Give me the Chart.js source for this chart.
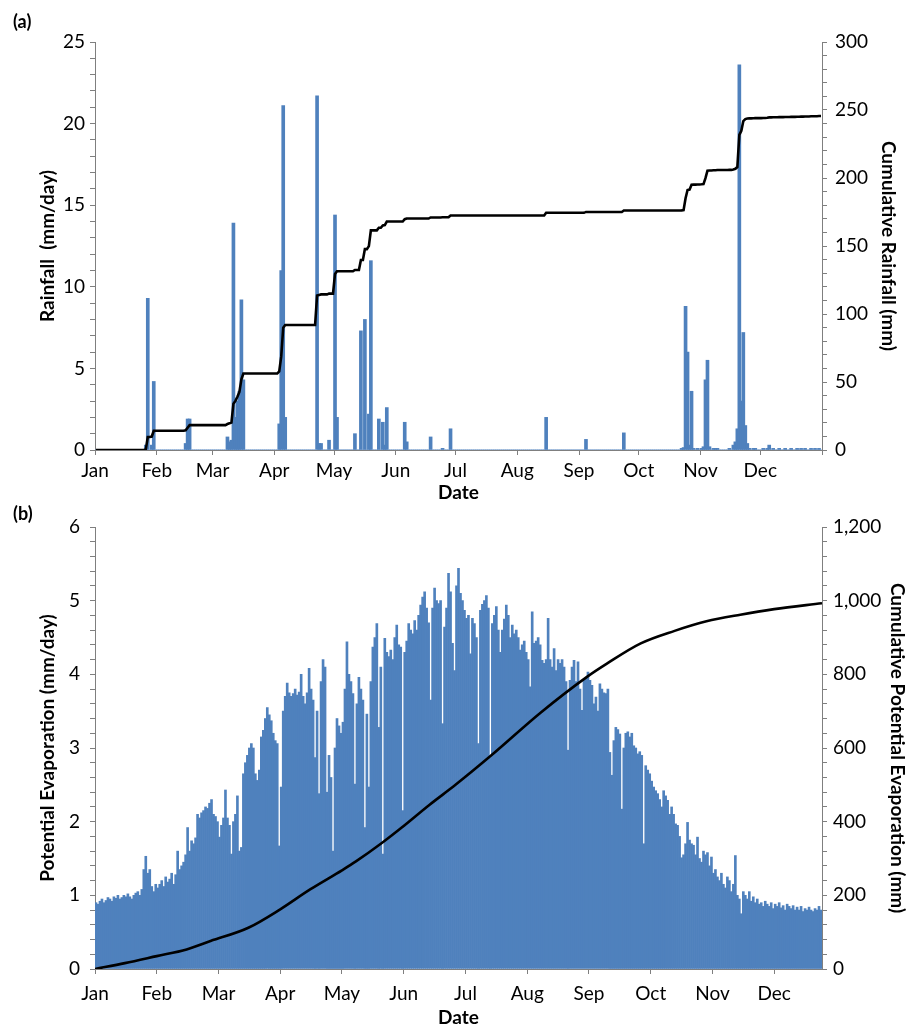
<!DOCTYPE html>
<html><head><meta charset="utf-8">
<script src="https://cdn.jsdelivr.net/npm/chart.js@4.4.0/dist/chart.umd.min.js"></script>
<style>
html,body{margin:0;padding:0;background:#fff;}
#wrap{position:relative;width:909px;height:1030px;overflow:hidden;background:#fff;}
canvas{position:absolute;left:0;}
.lab{position:absolute;font-family:Lato, sans-serif;font-weight:bold;font-size:18px;color:#000;line-height:20px;}
</style></head><body>
<div id="wrap">
<canvas id="ca" width="909" height="505" style="top:0"></canvas>
<canvas id="cb" width="909" height="525" style="top:505px"></canvas>
<div class="lab" style="left:13px;top:11px">(a)</div>
<div class="lab" style="left:13px;top:503px">(b)</div>
</div>
<script>
// ---------- labels ----------
const monthLabels = ['Jan','Feb','Mar','Apr','May','Jun','Jul','Aug','Sep','Oct','Nov','Dec'];
const xTicksA = [0,31,59,90,120,151,181,212,243,273,304,334,365];
const xTicksB = [0,31,62,93,124,155,186,217,248,279,310,341];

// ---------- (a) daily rainfall (mm/day) ----------
const rainJan = [0,0,0,0,0,0,0,0,0,0, 0,0,0,0,0,0,0,0,0,0, 0,0,0,0,0,0.3,9.3,0,0.3,4.2, 0];
const rainFeb = [0,0,0,0,0,0,0,0,0,0, 0,0,0,0,0.4,1.9,1.9,0,0,0, 0,0,0,0,0,0,0,0];
const rainMar = [0,0,0,0,0,0,0,0.8,0.5,0.6, 13.9,2.0,3.0,3.6,9.2,4.3,0,0,0,0, 0,0,0,0,0,0,0,0,0,0, 0];
const rainApr = [0,0,1.6,11.0,21.1,2.0,0,0,0,0, 0,0,0,0,0,0,0,0,0,0, 0,21.7,0.4,0.4,0,0,0,0.6,0,0];
const rainMay = [14.4,2.0,0,0,0,0,0,0,0,0, 1.0,0,0,7.3,0,8.0,0,2.2,11.6,0, 0,0,1.9,0,1.7,0.3,2.6,0,0,0, 0];
const rainJun = [0,0,0,0,1.7,0.5,0,0,0,0, 0,0,0,0,0,0,0,0.8,0,0, 0,0,0,0.1,0,0,0,1.3,0,0];
const rainJul = [0,0,0,0,0,0,0,0,0,0, 0,0,0,0,0,0,0,0,0,0, 0,0,0,0,0,0,0,0,0,0, 0];
const rainAug = [0,0,0,0,0,0,0,0,0,0, 0,0,0,0,2.0,0,0,0,0,0, 0,0,0,0,0,0,0,0,0,0, 0];
const rainSep = [0,0,0,0.65,0,0,0,0,0,0, 0,0,0,0,0,0,0,0,0,0, 0,0,1.05,0,0,0,0,0,0,0];
const rainOct = [0,0,0,0,0,0,0,0,0,0, 0,0,0,0,0,0,0,0,0,0, 0,0.1,0.15,8.8,6.0,0.3,3.6,0.1,0,0.1, 0];
const rainNov = [0.1,0.2,4.3,5.5,0.2,0,0.1,0.1,0.1,0, 0,0,0,0,0.1,0,0.3,0.5,1.3,23.6, 3.0,7.2,1.5,0.4,0.1,0,0.1,0.1,0,0];
const rainDec = [0,0.1,0,0.1,0.3,0,0.1,0,0,0.1, 0,0,0.1,0,0,0.1,0,0,0.1,0, 0.1,0,0.1,0,0,0.1,0,0.1,0,0.1, 0];

// ---------- (b) daily potential evaporation (mm/day) ----------
const petJan = [0.90,0.88,0.92,0.95,0.90,0.93,0.97,0.95,0.92,0.98, 0.96,1.00,0.95,0.97,1.00,0.98,1.02,0.98,0.95,1.00, 1.03,1.05,1.00,1.08,1.35,1.53,1.30,1.35,1.12,1.05, 1.15];
const petFeb = [1.10,1.15,1.20,1.12,1.25,1.18,1.22,1.30,1.15,1.28, 1.60,1.35,1.40,1.45,1.55,1.92,1.60,1.74,1.70,1.78, 2.10,2.05,2.12,2.15,2.20,2.18,2.25,2.30];
const petMar = [2.10,2.07,2.00,1.79,1.95,2.05,2.43,2.05,1.95,1.56, 2.00,2.10,2.35,1.60,1.65,2.65,2.80,2.90,3.00,3.06, 3.00,2.65,2.56,2.70,3.15,3.24,3.40,3.55,3.45,3.37, 3.20];
const petApr = [3.10,3.06,1.67,2.47,3.50,3.70,3.88,3.75,3.70,3.74, 3.80,3.72,3.76,4.00,3.70,3.60,3.75,4.08,3.80,3.65, 2.87,3.50,2.38,3.90,4.20,4.10,2.40,2.90,2.60,1.60];
const petMay = [3.00,3.40,3.30,3.20,3.35,3.80,4.44,4.00,3.90,3.74, 2.51,3.60,3.96,3.80,3.65,1.92,3.46,2.47,3.90,4.37, 4.50,4.69,3.28,4.10,1.56,4.49,4.30,4.24,4.33,4.20, 4.50];
const petJun = [4.67,4.40,4.37,2.15,4.30,4.45,4.69,4.60,4.55,4.73, 4.60,4.80,4.94,5.05,5.12,4.90,4.70,3.65,4.90,5.17, 5.00,4.96,5.00,3.33,4.64,4.90,5.37,5.12,4.42,4.05];
const petJul = [5.20,5.44,5.10,5.00,4.87,4.76,4.80,4.28,4.76,4.69, 4.50,3.06,4.87,4.95,5.00,5.07,4.90,2.87,4.69,4.80, 4.92,4.60,4.30,4.60,4.75,4.94,4.80,4.50,4.67,4.55, 4.60];
const petAug = [4.50,4.33,4.40,4.45,4.30,4.20,3.83,4.85,4.42,4.45, 4.50,4.40,4.19,4.15,4.20,4.76,4.20,4.10,4.35,4.05, 4.20,4.15,4.20,4.10,3.90,2.97,3.92,4.10,4.19,3.90, 4.17];
const petSep = [3.80,3.51,3.92,3.95,4.03,3.92,3.85,3.60,3.69,3.50, 3.87,3.80,3.75,3.74,3.80,2.94,2.63,3.10,3.28,3.25, 3.19,2.17,3.00,3.20,3.22,3.15,3.20,3.03,3.00,2.92];
const petOct = [2.95,2.90,1.70,2.76,2.70,2.65,2.55,2.47,2.42,2.38, 2.30,2.20,2.42,2.35,2.29,2.10,2.20,2.10,1.97,1.95, 1.80,1.51,1.55,1.70,1.99,1.75,1.70,1.68,1.55,1.79, 1.50];
const petNov = [1.45,1.60,1.55,1.58,1.40,1.52,1.30,1.35,1.25,1.20, 1.30,1.15,1.10,1.25,1.20,1.05,1.15,1.54,1.00,0.95, 0.75,1.05,1.00,0.95,1.05,0.92,0.98,0.90,0.95,0.88];
const petDec = [0.90,0.85,0.92,0.88,0.85,0.90,0.82,0.88,0.85,0.90, 0.83,0.86,0.80,0.88,0.85,0.82,0.86,0.80,0.84,0.80, 0.85,0.78,0.82,0.80,0.84,0.80,0.78,0.82,0.80,0.85, 0.80];

// cumulative potential evaporation (day of year, mm)
const petCumDay = [0, 15, 31, 46, 58, 77, 93, 108, 124, 131, 144, 154, 168, 181, 199, 224, 247, 257, 274, 291, 307, 324, 341, 365];
const petCumVal = [0, 16, 35, 53, 76, 112, 162, 216, 268, 292, 342, 384, 446, 500, 580, 697, 793, 829, 884, 918, 944, 962, 977, 993];

// ---------- build ----------
const rain = [].concat(rainJan,rainFeb,rainMar,rainApr,rainMay,rainJun,rainJul,rainAug,rainSep,rainOct,rainNov,rainDec);
const pet = [].concat(petJan,petFeb,petMar,petApr,petMay,petJun,petJul,petAug,petSep,petOct,petNov,petDec);
let acc = 0;
const rainCum = rain.map(v => (acc += v));

Chart.defaults.font.family = 'Lato, "Open Sans", sans-serif';
Chart.defaults.font.size = 19;
Chart.defaults.color = '#000';
const AX = '#7f7f7f';
const BAR = '#4f81bd';

function range(a, b, s) { const r = []; for (let v = a; v <= b + 1e-9; v += s) r.push(+v.toFixed(6)); return r; }

function yAxis(pos, tickVals, isMajor, fmt, title, titlePad, tickPad, width) {
  return {
    type: 'linear', position: pos,
    min: tickVals[0], max: tickVals[tickVals.length - 1],
    afterBuildTicks: s => { s.ticks = tickVals.map(v => ({ value: v })); },
    afterFit: s => { s.width = width; },
    grid: { drawOnChartArea: false, drawTicks: true, tickLength: 5, color: AX, tickColor: AX },
    border: { display: true, color: AX, width: 1 },
    ticks: { autoSkip: false, padding: tickPad, color: '#000', font: { size: 19 },
      callback: v => isMajor(v) ? fmt(v) : '' },
    title: { display: true, text: title, color: '#000', font: { size: 19, weight: 'bold' }, padding: { top: titlePad, bottom: 0 } }
  };
}
function xAxis(ticksArr, height, tickPad) {
  return {
    type: 'linear', min: 0, max: 365, offset: false,
    afterBuildTicks: s => { s.ticks = ticksArr.map(v => ({ value: v })); },
    afterFit: s => { s.height = height; },
    grid: { drawOnChartArea: false, drawTicks: true, tickLength: 5, color: AX, tickColor: AX, offset: false },
    border: { display: true, color: AX, width: 1 },
    ticks: { autoSkip: false, maxRotation: 0, minRotation: 0, padding: tickPad, color: '#000', font: { size: 19 },
      callback: (v, i) => monthLabels[i] !== undefined ? monthLabels[i] : '' },
    title: { display: true, text: 'Date', color: '#000', font: { size: 19, weight: 'bold' }, padding: { top: 0, bottom: 1 } }
  };
}
const isInt = m => v => Math.abs(v / m - Math.round(v / m)) < 1e-6;
const fmtComma = v => Math.round(v).toLocaleString('en-US');

new Chart(document.getElementById('ca'), {
  type: 'bar',
  data: {
    datasets: [
      { type: 'line', order: 0, data: rainCum.map((v, i) => ({ x: i + 0.5, y: v })), yAxisID: 'y2',
        borderColor: '#000', borderWidth: 2.6, pointRadius: 0, tension: 0, fill: false },
      { type: 'bar', order: 1, data: rain.map((v, i) => ({ x: i + 0.5, y: v })), yAxisID: 'y',
        backgroundColor: BAR, borderWidth: 0, barThickness: 3 }
    ]
  },
  options: {
    responsive: false, animation: false, devicePixelRatio: 1,
    layout: { padding: { top: 42, left: 0, right: 0, bottom: 0 } },
    plugins: { legend: { display: false }, tooltip: { enabled: false } },
    scales: {
      x: xAxis(xTicksA, 55, 4),
      y: yAxis('left', range(0, 25, 1), isInt(5), v => String(Math.round(v)), 'Rainfall  (mm/day)', 36, 5, 95),
      y2: yAxis('right', range(0, 300, 10), isInt(50), v => String(Math.round(v)), 'Cumulative Rainfall (mm)', 9, 8, 87)
    }
  }
});

new Chart(document.getElementById('cb'), {
  type: 'bar',
  data: {
    datasets: [
      { type: 'line', order: 0, data: petCumDay.map((d, i) => ({ x: d, y: petCumVal[i] })), yAxisID: 'y2',
        borderColor: '#000', borderWidth: 2.6, pointRadius: 0, cubicInterpolationMode: 'monotone', fill: false },
      { type: 'bar', order: 1, data: pet.map((v, i) => ({ x: i + 0.5, y: v })), yAxisID: 'y',
        backgroundColor: BAR, borderWidth: 0, barPercentage: 1, categoryPercentage: 1 }
    ]
  },
  options: {
    responsive: false, animation: false, devicePixelRatio: 1,
    layout: { padding: { top: 22, left: 0, right: 0, bottom: 0 } },
    plugins: { legend: { display: false }, tooltip: { enabled: false } },
    scales: {
      x: xAxis(xTicksB, 61, 8),
      y: yAxis('left', range(0, 6, 0.2), isInt(1), v => String(Math.round(v)), 'Potential Evaporation (mm/day)', 36, 10, 95),
      y2: yAxis('right', range(0, 1200, 40), isInt(200), fmtComma, 'Cumulative Potential Evaporation (mm)', 0, 6, 87)
    }
  }
});
</script>
</body></html>
